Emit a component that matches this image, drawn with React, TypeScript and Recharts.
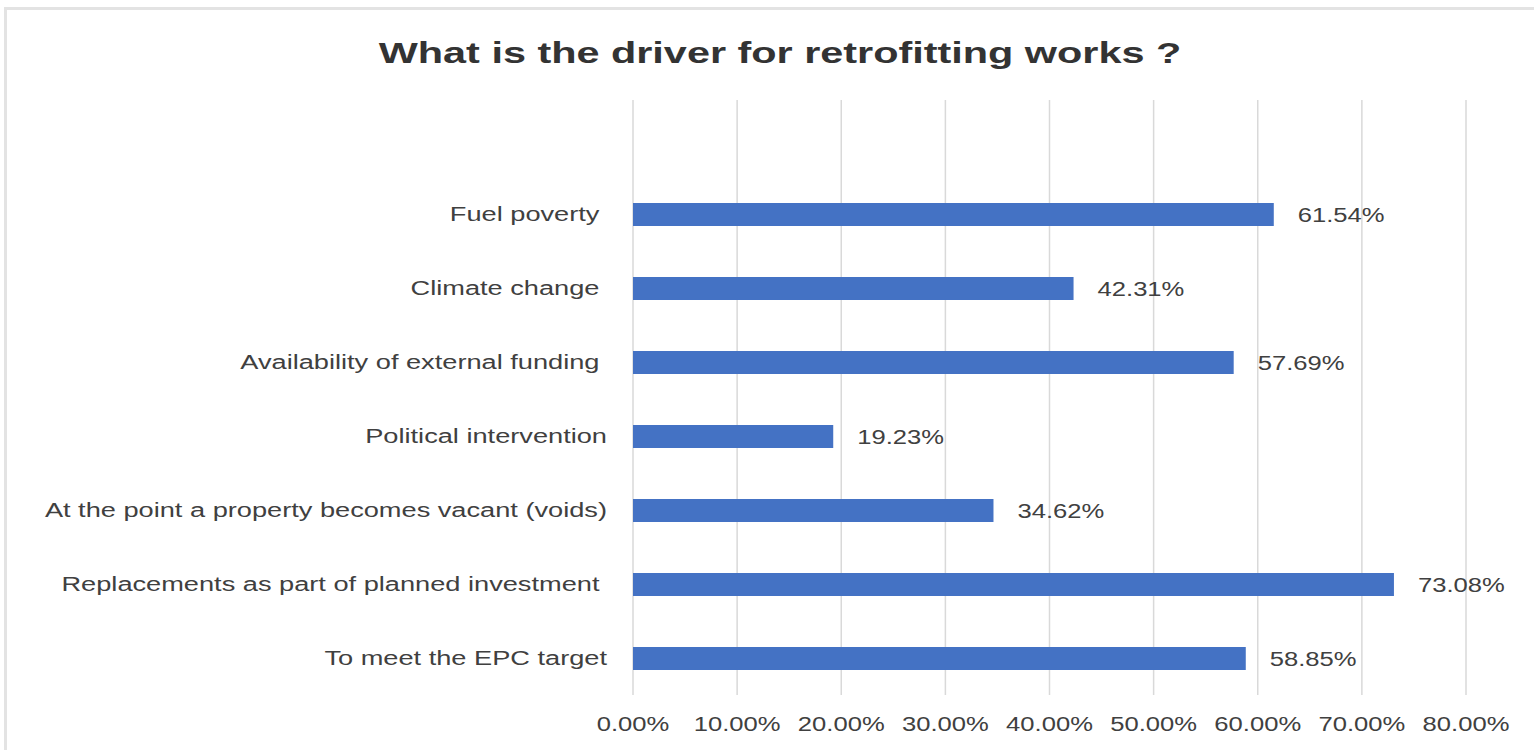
import React from 'react';
import { BarChart, Bar, XAxis, YAxis, CartesianGrid, LabelList } from 'recharts';

const categories = [
  'Fuel poverty ',
  'Climate change ',
  'Availability of external funding ',
  'Political intervention',
  'At the point a property becomes vacant (voids)',
  'Replacements as part of planned investment ',
  'To meet the EPC target',
];
const values = [61.54, 42.31, 57.69, 19.23, 34.62, 73.08, 58.85];
const xTicks = [0, 10, 20, 30, 40, 50, 60, 70, 80];
const title = 'What is the driver for retrofitting works ?';

const data = categories.map((name, i) => ({ name, value: values[i] }));

const FONT = '"Liberation Sans", Arial, sans-serif';
const TEXT = '#404040';
const SX = 1.36;

const YTick = (props: any) => {
  const { x, y, payload } = props;
  return (
    <text
      transform={`translate(${x},${y}) scale(${SX},1)`}
      textAnchor="end"
      dy="0.35em"
      fontSize={20}
      fontFamily={FONT}
      fill={TEXT}
      xmlSpace="preserve"
      style={{ whiteSpace: 'pre' }}
    >
      {payload.value}
    </text>
  );
};

const XTick = (props: any) => {
  const { x, y, payload } = props;
  return (
    <text
      transform={`translate(${x},${y}) scale(1.28,1)`}
      textAnchor="middle"
      dy={36}
      fontSize={20}
      fontFamily={FONT}
      fill={TEXT}
    >
      {Number(payload.value).toFixed(2) + '%'}
    </text>
  );
};

const ValueLabel = (props: any) => {
  const { x, y, width, height, value } = props;
  const lx = Number(x) + Number(width) + 24;
  const ly = Number(y) + Number(height) / 2;
  return (
    <text
      transform={`translate(${lx},${ly}) scale(1.28,1)`}
      textAnchor="start"
      dy="0.35em"
      fontSize={20}
      fontFamily={FONT}
      fill={TEXT}
    >
      {Number(value).toFixed(2) + '%'}
    </text>
  );
};

export default function App() {
  return (
    <div
      style={{
        position: 'fixed',
        left: 0,
        top: 0,
        width: 1534,
        height: 750,
        background: '#fff',
        overflow: 'hidden',
      }}
    >
      <div
        style={{
          position: 'absolute',
          left: 4,
          top: 7,
          width: 1540,
          height: 800,
          border: '3px solid #e3e3e3',
          boxSizing: 'border-box',
        }}
      />
      <svg
        width={1534}
        height={100}
        style={{ position: 'absolute', left: 0, top: 0 }}
      >
        <text
          transform={`translate(780,63) scale(1.38,1)`}
          textAnchor="middle"
          fontSize={30}
          fontWeight="bold"
          fontFamily={FONT}
          fill="#333333"
        >
          {title}
        </text>
      </svg>
      <div style={{ position: 'absolute', left: 0, top: 0 }}>
        <BarChart
          width={1534}
          height={750}
          data={data}
          layout="vertical"
          margin={{ top: 100, right: 68, bottom: 25, left: 0 }}
        >
          <CartesianGrid horizontal={false} vertical={true} stroke="#d9d9d9" strokeWidth={1.5} />
          <XAxis
            type="number"
            domain={[0, 80]}
            ticks={xTicks}
            axisLine={false}
            tickLine={false}
            tickSize={0}
            tickMargin={0}
            height={30}
            tick={<XTick />}
            interval={0}
          />
          <YAxis
            type="category"
            dataKey="name"
            width={633}
            axisLine={false}
            tickLine={false}
            tickSize={0}
            tickMargin={26}
            tick={<YTick />}
            interval={0}
            padding={{ top: 77, bottom: 0 }}
          />
          <Bar dataKey="value" fill="#4472C4" barSize={23} isAnimationActive={false}>
            <LabelList dataKey="value" content={<ValueLabel />} />
          </Bar>
        </BarChart>
      </div>
    </div>
  );
}
